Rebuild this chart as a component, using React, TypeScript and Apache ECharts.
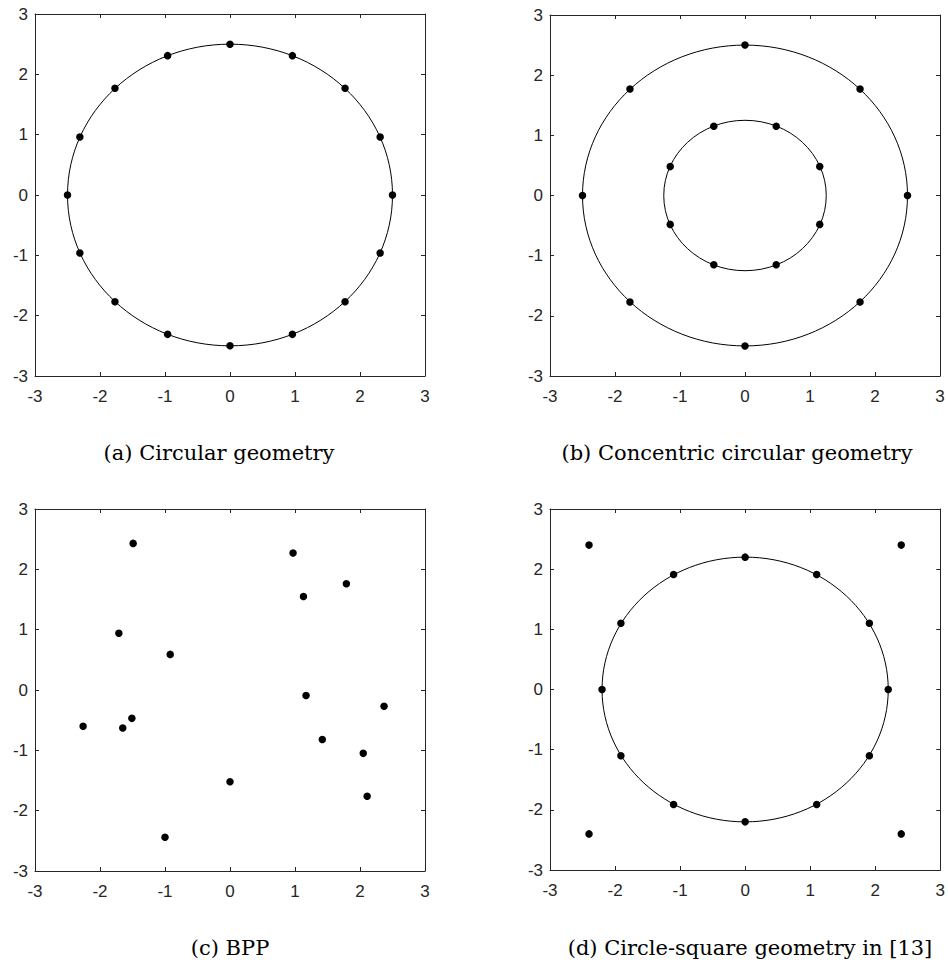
import React, { useEffect, useRef } from "react";
import * as echarts from "echarts";

// Panel (a): circular geometry, 16 points on r = 2.5
const circularPts: number[][] = [
  [0, 2.5], [0.96, 2.31], [1.77, 1.77], [2.31, 0.96], [2.5, 0], [2.31, -0.96],
  [1.77, -1.77], [0.96, -2.31], [0, -2.5], [-0.96, -2.31], [-1.77, -1.77],
  [-2.31, -0.96], [-2.5, 0], [-2.31, 0.96], [-1.77, 1.77], [-0.96, 2.31],
];
const circularRings: number[][] = [[0, 0, 2.5]];

// Panel (b): concentric circular geometry
const concentricPts: number[][] = [
  [0, 2.5], [1.77, 1.77], [2.5, 0], [1.77, -1.77], [0, -2.5], [-1.77, -1.77],
  [-2.5, 0], [-1.77, 1.77],
  [0.48, 1.15], [1.15, 0.48], [1.15, -0.48], [0.48, -1.15], [-0.48, -1.15],
  [-1.15, -0.48], [-1.15, 0.48], [-0.48, 1.15],
];
const concentricRings: number[][] = [[0, 0, 2.5], [0, 0, 1.25]];

// Panel (c): BPP
const bppPts: number[][] = [
  [-1.49, 2.43], [-1.71, 0.94], [-0.92, 0.59], [-1.51, -0.47], [-2.26, -0.6],
  [-1.65, -0.63], [0, -1.52], [-1.0, -2.44],
  [0.97, 2.27], [1.79, 1.76], [1.13, 1.55], [1.17, -0.09], [2.37, -0.27],
  [1.42, -0.82], [2.05, -1.05], [2.11, -1.76],
];

// Panel (d): circle-square geometry
const circleSquarePts: number[][] = [
  [0, 2.2], [1.1, 1.91], [1.91, 1.1], [2.2, 0], [1.91, -1.1], [1.1, -1.91],
  [0, -2.2], [-1.1, -1.91], [-1.91, -1.1], [-2.2, 0], [-1.91, 1.1], [-1.1, 1.91],
  [-2.4, 2.4], [2.4, 2.4], [-2.4, -2.4], [2.4, -2.4],
];
const circleSquareRings: number[][] = [[0, 0, 2.2]];

const captions: string[] = [
  "(a) Circular geometry",
  "(b) Concentric circular geometry",
  "(c) BPP",
  "(d) Circle-square geometry in [13]",
];

const axisMin = -3;
const axisMax = 3;
const axisInterval = 1;

const INK = "#262626";

export default function App() {
  const ref = useRef<HTMLDivElement>(null);

  useEffect(() => {
    document.body.style.margin = "0";
    if (!ref.current) return;
    const chart = echarts.init(ref.current, undefined, { renderer: "svg" });

    const grids = [
      { left: 35, top: 14, width: 390, height: 362 },
      { left: 550, top: 15, width: 390, height: 361 },
      { left: 35, top: 509, width: 390, height: 362 },
      { left: 550, top: 509, width: 391, height: 361 },
    ];
    const captionPos = [
      [219, 453],
      [737, 453],
      [230, 948],
      [750, 948],
    ];
    const pts = [circularPts, concentricPts, bppPts, circleSquarePts];
    const rings = [circularRings, concentricRings, [], circleSquareRings];

    const labelFont = { fontSize: 17, fontFamily: "Liberation Sans", color: INK };

    const baseAxis = (gi: number, position: string, showLabel: boolean) => ({
      type: "value",
      gridIndex: gi,
      position,
      min: axisMin,
      max: axisMax,
      interval: axisInterval,
      axisLine: { show: true, onZero: false, lineStyle: { color: INK, width: 1 } },
      axisTick: { show: true, inside: true, length: 4, lineStyle: { color: INK } },
      splitLine: { show: false },
      axisLabel: {
        show: showLabel,
        margin: position === "bottom" ? 12 : 7,
        formatter: (v: number) => `{t|${v}}`,
        rich: { t: labelFont },
        ...labelFont,
      },
    });

    const xAxis: any[] = [];
    const yAxis: any[] = [];
    grids.forEach((_, gi) => {
      xAxis.push(baseAxis(gi, "bottom", true));
      xAxis.push(baseAxis(gi, "top", false));
      yAxis.push(baseAxis(gi, "left", true));
      yAxis.push(baseAxis(gi, "right", false));
    });

    const series: any[] = [];
    grids.forEach((_, gi) => {
      if (rings[gi].length) {
        series.push({
          type: "custom",
          coordinateSystem: "cartesian2d",
          xAxisIndex: gi * 2,
          yAxisIndex: gi * 2,
          data: rings[gi],
          clip: false,
          silent: true,
          renderItem: (params: any, api: any) => {
            const c = api.coord([api.value(0), api.value(1)]);
            const r = api.value(2);
            const s = api.size([r, r]);
            return {
              type: "ellipse",
              shape: { cx: c[0], cy: c[1], rx: s[0], ry: s[1] },
              style: { fill: "none", stroke: "#000", lineWidth: 1 },
            };
          },
        });
      }
      series.push({
        type: "scatter",
        xAxisIndex: gi * 2,
        yAxisIndex: gi * 2,
        data: pts[gi],
        symbol: "circle",
        symbolSize: 7.5,
        itemStyle: { color: "#000", opacity: 1 },
        z: 5,
      });
    });

    chart.setOption({
      animation: false,
      backgroundColor: "#fff",
      grid: grids,
      xAxis,
      yAxis,
      series,
      graphic: captions.map((t, i) => ({
        type: "text",
        x: captionPos[i][0],
        y: captionPos[i][1],
        style: {
          text: t,
          fill: "#000",
          font: '21px "DejaVu Serif"',
          textAlign: "center",
          textVerticalAlign: "middle",
        },
      })),
    });

    return () => chart.dispose();
  }, []);

  return <div ref={ref} style={{ width: 948, height: 962 }} />;
}
